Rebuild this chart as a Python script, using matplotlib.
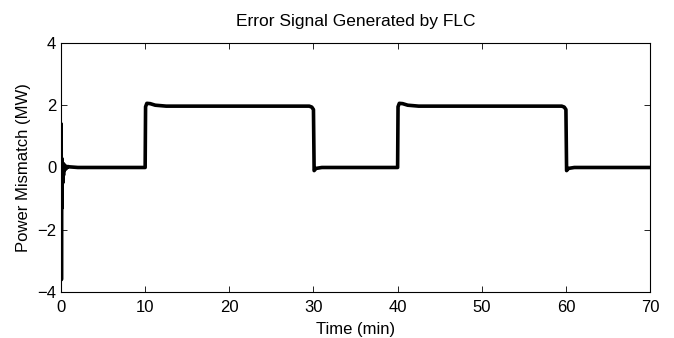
import matplotlib
matplotlib.use("Agg")
import matplotlib.pyplot as plt

# Time (min) and error signal (MW)
time_min = [0.0, 0.02, 0.05, 0.08, 0.12, 0.16, 0.2, 0.25, 0.3, 0.35, 0.4, 0.5, 0.6, 0.8, 1.0, 2.0,
            10.0, 10.05, 10.2, 10.6, 11.2, 12.5, 29.5, 29.8, 30.0, 30.08, 30.3, 31.0,
            40.0, 40.05, 40.2, 40.6, 41.2, 42.5, 59.5, 59.8, 60.0, 60.08, 60.3, 61.0, 70.0]
error_mw = [0.0, 1.4, -3.6, 0.3, -1.3, 0.15, -0.5, 0.12, -0.25, 0.1, -0.1, 0.06, -0.04, 0.03, 0.02, 0.0,
            0.0, 1.95, 2.06, 2.05, 2.0, 1.97, 1.97, 1.94, 1.86, -0.1, -0.03, 0.0,
            0.0, 1.95, 2.06, 2.05, 2.0, 1.97, 1.97, 1.94, 1.86, -0.1, -0.03, 0.0, 0.0]

x_ticks = [0, 10, 20, 30, 40, 50, 60, 70]
y_ticks = [-4, -2, 0, 2, 4]

plt.rcParams['font.family'] = ['Liberation Sans', 'DejaVu Sans']

fig = plt.figure(figsize=(6.74, 3.38), dpi=100)
ax = fig.add_axes([0.0905, 0.136, 0.874, 0.737])
ax.plot(time_min, error_mw, color='black', linewidth=2.6, solid_joinstyle='round')
ax.set_xlim(0, 70)
ax.set_ylim(-4, 4)
ax.set_xticks(x_ticks)
ax.set_yticks(y_ticks)
ax.tick_params(direction='in', top=True, right=True, labelsize=12, length=4, width=0.6)
ax.tick_params(axis='x', pad=6)
for s in ax.spines.values():
    s.set_linewidth(0.8)
ax.set_title('Error Signal Generated by FLC', fontsize=12.5, pad=12)
ax.set_xlabel('Time (min)', fontsize=12, labelpad=5)
ax.set_ylabel('Power Mismatch (MW)', fontsize=12, labelpad=4)
fig.savefig('out.png', dpi=100)
